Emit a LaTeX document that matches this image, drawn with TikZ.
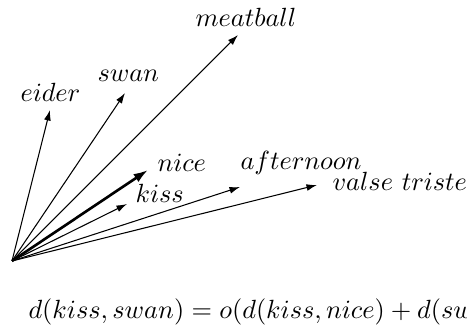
\documentclass[tikz,border=0pt]{standalone}
\usepackage{amsmath,amssymb}
\usetikzlibrary{arrows.meta,positioning}
\begin{document}
\begin{tikzpicture}[x=0.38pt,y=0.38pt,
  vec/.style={-{Latex[length=4pt,width=2.6pt]}},
  word/.style={anchor=base west,inner sep=0pt}]
 \useasboundingbox (0,0) rectangle (467,330);
 \coordinate (o) at (12,69);
 \foreach \n/\x/\y in {eider/50/220,swan/125/237,meatball/238/295,
   kiss/127/126,afternoon/240/143,valse/317/145}
   {\coordinate (\n) at (\x,\y);
    \draw[vec] (o)--(\n);}
 \coordinate (nice) at (148,160);
 \draw[-{Latex[length=5.5pt,width=3.6pt]},line width=1pt] (o)--(nice);
 \node[word] (l1) at (20,228) {$eider$};
 \node[word] (l2) at (97,248) {$swan$};
 \node[word] (l3) at (195,303) {$meatball$};
 \node[word] (l4) at (157,158) {$nice$};
 \node[word] (l5) at (135,127) {$kiss$};
 \node[word] (l6) at (240,160) {$afternoon$};
 \node[word] (l7) at (332,139) {$valse\ triste$};
 \node[word] (f) at (28,11) {$d(kiss,swan)=o(d(kiss,nice)+d(swan,nice))$};
\end{tikzpicture}
\end{document}
